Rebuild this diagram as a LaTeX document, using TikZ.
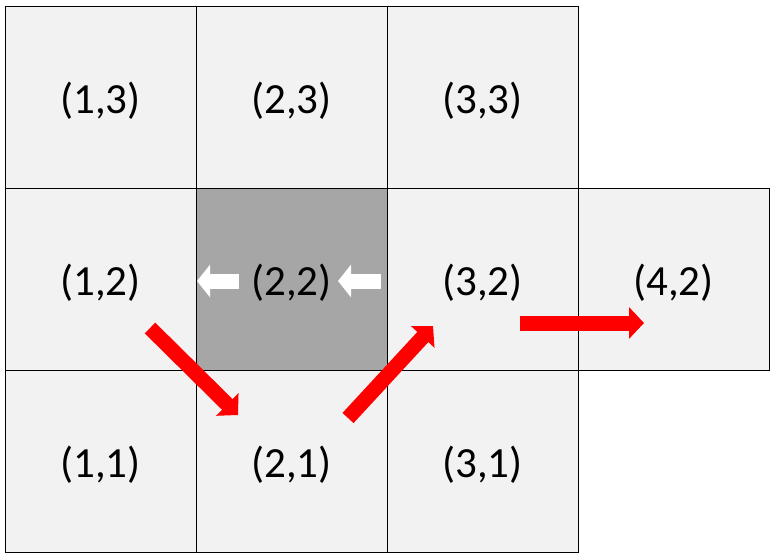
\documentclass[tikz,border=0pt]{standalone}
\usepackage{fontspec}
\setmainfont{Carlito}
\usetikzlibrary{arrows.meta}
\definecolor{cellgray}{HTML}{F2F2F2}
\definecolor{darkcell}{HTML}{A6A6A6}
\definecolor{arrred}{HTML}{FF0000}
\begin{document}
\begin{tikzpicture}[x=1pt,y=-1pt,
  cell/.style={draw=black,line width=0.9pt,fill=cellgray,minimum width=191pt,minimum height=182pt,inner sep=0pt},
  celllabel/.style={font=\fontsize{43}{46}\selectfont,inner sep=0pt,yshift=-4pt},
  darkbox/.style={cell,fill=darkcell},
  redarrow/.style={draw=arrred,line width=15pt,line cap=butt,-{Triangle[length=15pt,width=31pt,fill=arrred,color=arrred]}},
  whitearrow/.style={draw=white,line width=15pt,line cap=butt,-{Triangle[length=13pt,width=32pt,fill=white,color=white]}}]
\useasboundingbox (0,0) rectangle (775,558);
\fill[white] (0,0) rectangle (775,558);
% cells
\node[cell,label={[celllabel]center:(1,3)}] (c13) at (100.5,97) {};
\node[cell,label={[celllabel]center:(2,3)}] (c23) at (291.5,97) {};
\node[cell,label={[celllabel]center:(3,3)}] (c33) at (482.5,97) {};
\node[cell,label={[celllabel]center:(1,2)}] (c12) at (100.5,279) {};
\node[darkbox,label={[celllabel]center:(2,2)}] (c22) at (291.5,279) {};
\node[cell,label={[celllabel]center:(3,2)}] (c32) at (482.5,279) {};
\node[cell,label={[celllabel]center:(4,2)}] (c42) at (673.5,279) {};
\node[cell,label={[celllabel]center:(1,1)}] (c11) at (100.5,461) {};
\node[cell,label={[celllabel]center:(2,1)}] (c21) at (291.5,461) {};
\node[cell,label={[celllabel]center:(3,1)}] (c31) at (482.5,461) {};
% arrow coordinates
\coordinate (a1s) at (150,328);
\coordinate (a1e) at (238,415);
\coordinate (a2s) at (348,418);
\coordinate (a2e) at (433,326);
\coordinate (a3s) at (520,323);
\coordinate (a3e) at (644,323);
\coordinate (w1s) at (239,281);
\coordinate (w1e) at (197,281);
\coordinate (w2s) at (381,281);
\coordinate (w2e) at (338,281);
\draw[redarrow] (a1s) -- (a1e);
\draw[redarrow] (a2s) -- (a2e);
\draw[redarrow] (a3s) -- (a3e);
\draw[whitearrow] (w1s) -- (w1e);
\draw[whitearrow] (w2s) -- (w2e);
\end{tikzpicture}
\end{document}
